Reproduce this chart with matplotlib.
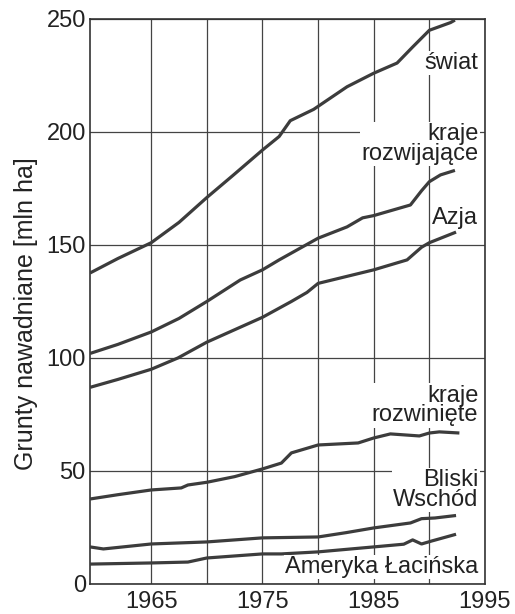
import numpy as np
import matplotlib
matplotlib.use('Agg')
import matplotlib.pyplot as plt

plt.rcParams['font.family'] = ['Liberation Sans', 'DejaVu Sans']

# rok, mln ha
swiat_lata = [1959.5, 1962, 1965, 1967.5, 1970, 1972.4, 1975, 1976.5, 1977.5, 1979.6,
              1982.6, 1985, 1987.1, 1988.5, 1990, 1991.9, 1992.3]
swiat = [137.6, 144, 151, 160, 171, 181, 192, 198, 205, 210,
         220, 226, 230.5, 237.6, 245, 248.4, 249.5]

rozwijajace_lata = [1959.5, 1962, 1965, 1967.5, 1970, 1973, 1975, 1976.5, 1980, 1982.6,
                    1984, 1985, 1988.3, 1989.3, 1990, 1991, 1992.3]
rozwijajace = [102, 106, 111.5, 117.5, 125, 134.5, 139, 143.4, 153, 158,
               162, 163, 167.7, 174, 178, 181, 183]

azja_lata = [1959.5, 1962, 1965, 1967.4, 1970, 1972.5, 1975, 1977.6, 1979, 1980,
             1982.5, 1985, 1988, 1989.3, 1990, 1992.4]
azja = [87, 90.5, 95, 100, 107, 112.5, 118, 125, 129, 133,
        136, 139, 143.4, 149, 151, 155.7]

rozwiniete_lata = [1959.5, 1962, 1965, 1967.7, 1968.3, 1970, 1972.5, 1975, 1976.7, 1977.6,
                   1980, 1983.6, 1985, 1986.5, 1989.1, 1990, 1990.9, 1992.7]
rozwiniete = [37.6, 39.5, 41.6, 42.5, 43.8, 45, 47.5, 50.9, 53.5, 58,
              61.5, 62.4, 64.6, 66.4, 65.5, 66.8, 67.3, 66.8]

bliski_lata = [1959.5, 1960.7, 1965, 1970, 1975, 1980, 1982.5, 1985, 1988.3, 1989.3,
               1990.5, 1992.4]
bliski = [16.4, 15.5, 17.7, 18.6, 20.4, 20.8, 22.7, 24.8, 27, 28.9,
          29.2, 30.3]

ameryka_lata = [1959.5, 1965, 1968.3, 1970, 1975, 1976.7, 1980, 1985, 1987.7, 1988.5,
                1989.3, 1990.2, 1992.4]
ameryka = [8.8, 9.3, 9.7, 11.5, 13.3, 13.3, 14.2, 16.4, 17.6, 19.5,
           17.7, 19, 22]

serie = [(swiat_lata, swiat), (rozwijajace_lata, rozwijajace), (azja_lata, azja),
         (rozwiniete_lata, rozwiniete), (bliski_lata, bliski), (ameryka_lata, ameryka)]

etykiety = ['świat', 'kraje\nrozwijające', 'Azja', 'kraje\nrozwinięte',
            'Bliski\nWschód', 'Ameryka Łacińska']
etykiety_y = [230.5, 194.7, 162, 79, 41.6, 7.5]

fig = plt.figure(figsize=(5.15, 6.14), dpi=100)
ax = fig.add_axes([0.1748, 0.0489, 0.7669, 0.9202])

kolor = '#3c3c3c'
for lata, wart in serie:
    ax.plot(lata, wart, color=kolor, lw=2.3, solid_capstyle='butt', zorder=3)

for tekst, yy in zip(etykiety, etykiety_y):
    ax.text(1994.4, yy, tekst, ha='right', va='center', fontsize=17,
            color='#222222', linespacing=0.85, zorder=4,
            bbox=dict(facecolor='white', edgecolor='none', pad=1))

ax.set_xlim(1959.5, 1995)
ax.set_ylim(0, 250)
ax.set_xticks([1965, 1975, 1985, 1995])
ax.set_xticks([1970, 1980, 1990], minor=True)
ax.set_yticks([0, 50, 100, 150, 200, 250])
ax.grid(True, which='both', color='#444444', lw=0.9, zorder=1)
ax.set_axisbelow(True)
ax.tick_params(axis='both', which='both', length=0, labelsize=17, colors='#222222')
ax.tick_params(axis='x', pad=5)
ax.tick_params(axis='y', pad=3)
for sp in ax.spines.values():
    sp.set_color('#333333')
    sp.set_linewidth(1.2)

ax.set_ylabel('Grunty nawadniane [mln ha]', fontsize=18, color='#222222')
ax.yaxis.set_label_coords(-0.132, 0.478)

fig.savefig('out.png', dpi=100)
